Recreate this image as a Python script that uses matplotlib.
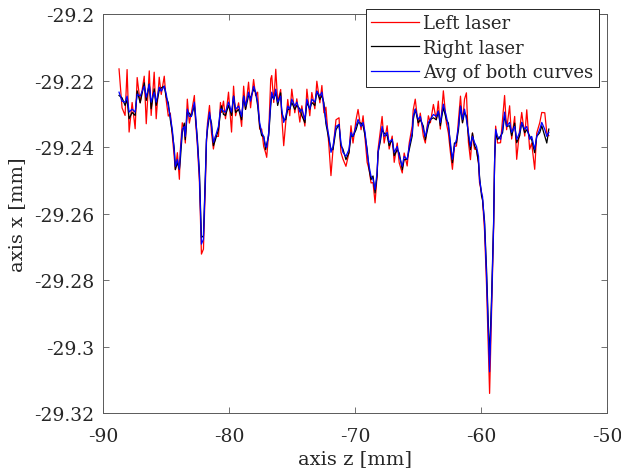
import numpy as np
import matplotlib
matplotlib.use('Agg')
import matplotlib.pyplot as plt
from matplotlib.ticker import FuncFormatter

# axis z positions [mm]
z_mm = [
    -88.73, -88.49, -88.25, -88.09, -87.93, -87.69, -87.45, -87.29, -87.05, -86.73,
    -86.57, -86.33, -86.18, -85.94, -85.78, -85.54, -85.38, -85.14, -84.98, -84.82,
    -84.66, -84.50, -84.34, -84.26, -84.10, -83.94, -83.86, -83.71, -83.55, -83.47,
    -83.31, -83.15, -82.99, -82.75, -82.67, -82.51, -82.35, -82.19, -82.03, -81.87,
    -81.79, -81.71, -81.55, -81.39, -81.24, -81.08, -80.84, -80.68, -80.60, -80.44,
    -80.28, -80.04, -79.80, -79.64, -79.48, -79.24, -79.00, -78.84, -78.69, -78.45,
    -78.29, -78.05, -77.89, -77.73, -77.57, -77.41, -77.25, -77.09, -77.01, -76.85,
    -76.69, -76.61, -76.45, -76.29, -76.14, -75.90, -75.82, -75.66, -75.50, -75.34,
    -75.18, -75.02, -74.78, -74.62, -74.38, -74.22, -73.98, -73.82, -73.59, -73.43,
    -73.19, -73.03, -72.79, -72.63, -72.47, -72.31, -72.07, -71.91, -71.75, -71.51,
    -71.27, -71.12, -70.96, -70.72, -70.48, -70.32, -70.16, -69.92, -69.76, -69.52,
    -69.36, -69.20, -69.04, -68.88, -68.73, -68.57, -68.41, -68.25, -68.17, -68.01,
    -67.85, -67.69, -67.45, -67.29, -67.05, -66.89, -66.65, -66.49, -66.25, -66.10,
    -65.86, -65.70, -65.46, -65.38, -65.22, -64.98, -64.82, -64.58, -64.42, -64.18,
    -64.02, -63.78, -63.55, -63.39, -63.23, -62.99, -62.75, -62.59, -62.43, -62.27,
    -62.11, -61.95, -61.79, -61.63, -61.47, -61.31, -61.16, -61.00, -60.84, -60.68,
    -60.52, -60.36, -60.20, -60.12, -59.96, -59.88, -59.72, -59.56, -59.40, -59.32,
    -59.16, -59.00, -58.92, -58.84, -58.69, -58.45, -58.29, -58.13, -57.97, -57.73,
    -57.57, -57.33, -57.17, -56.93, -56.77, -56.53, -56.37, -56.14, -55.98, -55.74,
    -55.58, -55.34, -55.18, -54.94, -54.78, -54.62,
]

# averaged profile, depth below -29.2 mm in micrometres
avg_um = [
    23.5, 26.2, 26.5, 24.7, 29.5, 28.6, 29.5, 24.1, 24.7, 21.7,
    25.0, 21.1, 26.5, 23.5, 26.5, 22.0, 23.2, 21.7, 24.1, 27.7,
    30.8, 34.7, 41.6, 45.8, 43.7, 46.7, 41.6, 34.7, 33.8, 36.8,
    28.6, 30.8, 30.8, 26.5, 29.5, 38.6, 48.5, 69.2, 67.7, 48.5,
    37.7, 33.8, 29.5, 33.8, 38.6, 36.8, 33.8, 28.6, 28.6, 29.2,
    29.5, 26.5, 29.5, 24.7, 28.6, 27.7, 30.8, 24.7, 27.7, 23.5,
    26.2, 21.7, 23.5, 26.5, 32.6, 35.6, 36.8, 39.8, 40.1, 35.6,
    26.5, 23.5, 25.6, 22.6, 26.5, 24.7, 28.6, 32.6, 30.8, 27.7,
    28.6, 25.6, 27.7, 26.5, 29.5, 28.6, 31.7, 25.6, 28.6, 25.6,
    26.5, 23.2, 24.7, 23.5, 27.7, 32.0, 36.8, 41.6, 39.8, 33.8,
    33.2, 38.6, 41.6, 42.8, 40.7, 35.6, 36.8, 33.8, 31.7, 33.8,
    32.6, 35.6, 41.6, 45.8, 48.8, 49.7, 52.8, 47.6, 41.6, 37.7,
    33.8, 36.8, 35.6, 38.6, 37.7, 41.6, 39.8, 42.8, 45.8, 42.8,
    43.7, 39.8, 35.6, 30.8, 28.6, 31.7, 30.8, 34.7, 36.8, 32.6,
    31.7, 30.2, 30.8, 29.2, 32.6, 27.1, 30.8, 33.8, 38.6, 43.7,
    39.8, 37.7, 33.8, 27.7, 31.7, 28.6, 31.7, 35.6, 39.8, 36.8,
    38.6, 39.8, 42.8, 49.7, 53.7, 54.9, 63.3, 78.9, 98.7, 107.6,
    86.9, 63.3, 43.7, 34.7, 36.8, 37.7, 34.7, 29.5, 33.8, 32.6,
    35.6, 33.8, 37.7, 35.6, 32.6, 34.7, 33.8, 37.7, 36.8, 40.7,
    36.8, 34.7, 32.6, 34.7, 36.8, 35.6,
]

# left laser deviation from the average [um]
left_dev_um = [
    -7, 2, 4, -8, 6, -2, 5, -5, 2, -3,
    8, -4, 4, -6, 5, -3, 1, -3, 2, 3,
    -1, 2, 2, 1, -2, 3, -1, -2, 1, 2,
    -3, 2, -1, -2, 2, 1, 2, 3, 3, 2,
    1, -1, -2, 2, 2, 0, 3, -2, 1, -3,
    2, -3, 6, -3, 2, -1, 3, -3, 1, -3,
    2, -2, 1, -3, 2, -1, 3, 2, 3, 0,
    -7, -5, 1, -6, 0, -2, 2, 7, 2, -2,
    2, -3, 2, -1, 3, -1, 2, -3, 2, -2,
    2, -3, 2, -2, 2, -4, 3, 7, 1, -2,
    -2, 3, 2, 3, 1, -2, 2, -2, -3, 1,
    -2, 2, 3, 1, 2, 1, 4, 1, -1, -2,
    -3, 2, -2, 2, -1, 3, -1, 2, 2, -1,
    2, -1, -2, -2, -3, 2, -1, 2, 2, -2,
    1, -3, 1, -3, 2, -4, 2, 2, 3, 3,
    0, 2, -2, -3, 1, -3, -8, 3, 4, -1,
    2, 1, 2, 1, 0, 1, 2, 3, 4, 6.5,
    2, 1, 0, -1, 2, 1, -3, -5, 1, -5,
    2, -3, 6, -1, -3, 2, -5, 3, 2, 6,
    -1, -2, -3, -5, -1, 1,
]

# right laser deviation from the average [um]
right_dev_um = [
    1, -1, 1, 1, 2, 1, 1, -1, 2, -1,
    1, 0, 2, -1, 1, 1, -1, 0, 1, -1,
    1, 1, -1, 1, 1, 0, 2, 1, -1, 1,
    1, -1, 0, 1, 1, -1, -1, -2, -1, -1,
    0, 1, 1, -1, 1, 1, 1, 1, -1, 1,
    1, 1, 1, 0, 1, 1, 1, 0, 1, 1,
    -1, 1, 0, 1, 1, 1, 0, 1, -1, 1,
    1, 1, 0, 1, 1, -1, 1, -1, 1, 1,
    0, 1, 1, 1, -1, 2, 1, 1, 0, 1,
    1, 0, 1, 1, -1, 1, 1, -1, 1, 1,
    0, 1, -1, 1, 1, 1, 0, 1, 1, -1,
    1, 1, -1, 1, 1, -1, 1, 1, 0, 1,
    1, -1, 1, 1, 0, 1, 1, -1, 1, 1,
    0, 1, 1, 1, 0, 1, 1, -1, 1, 1,
    0, 1, 1, 0, 1, 1, 1, -1, 1, 1,
    -1, 1, 1, 0, 1, 1, -1, 1, 1, -1,
    1, 1, 2, -1, 1, 1, -1, -2, -3, -5,
    -2, -1, 0, 1, 1, -1, 1, 1, 0, 1,
    1, -1, 1, 1, 0, 1, 1, -1, 1, 1,
    0, 1, 1, 2, 2, -1,
]

x_ticks = [-90, -80, -70, -60, -50]
y_ticks = [-29.32, -29.3, -29.28, -29.26, -29.24, -29.22, -29.2]

z = np.array(z_mm)
avg = -29.2 - np.array(avg_um) / 1000
left = -29.2 - (np.array(avg_um) + np.array(left_dev_um)) / 1000
right = -29.2 - (np.array(avg_um) + np.array(right_dev_um)) / 1000

plt.rcParams['font.family'] = 'DejaVu Serif'
plt.rcParams['axes.unicode_minus'] = False
txt = '#262626'

fig = plt.figure(figsize=(6.21, 4.77), dpi=100)
ax = fig.add_axes([0.1659, 0.132, 0.8116, 0.8365])

ax.plot(z, left, color='#ff0000', lw=0.9, label='Left laser')
ax.plot(z, right, color='#000000', lw=0.9, label='Right laser')
ax.plot(z, avg, color='#0000ff', lw=0.9, label='Avg of both curves')

ax.set_xlim(-90, -50)
ax.set_ylim(-29.32, -29.2)
ax.set_xticks(x_ticks)
ax.set_yticks(y_ticks)
ax.yaxis.set_major_formatter(FuncFormatter(lambda v, p: f'{v:.2f}'.rstrip('0')))

ax.tick_params(direction='in', top=True, right=True, length=4.5, width=0.6,
               colors='0.35', labelcolor=txt, labelsize=13.5)
ax.tick_params(axis='x', pad=10)
ax.tick_params(axis='y', pad=6)
for s in ax.spines.values():
    s.set_color('0.35')
    s.set_linewidth(0.7)

ax.set_xlabel('axis z [mm]', fontsize=14, color=txt, labelpad=3)
ax.set_ylabel('axis x [mm]', fontsize=14, color=txt, labelpad=6)

leg = ax.legend(loc='upper right', bbox_to_anchor=(0.984, 1.0125), borderaxespad=0,
                fancybox=False, edgecolor='0.15', framealpha=1, fontsize=13,
                handlelength=2.67, handletextpad=0.22, labelspacing=0.35,
                borderpad=0.3)
leg.get_frame().set_linewidth(0.7)
for t in leg.get_texts():
    t.set_color(txt)

fig.savefig('out.png', dpi=100)
